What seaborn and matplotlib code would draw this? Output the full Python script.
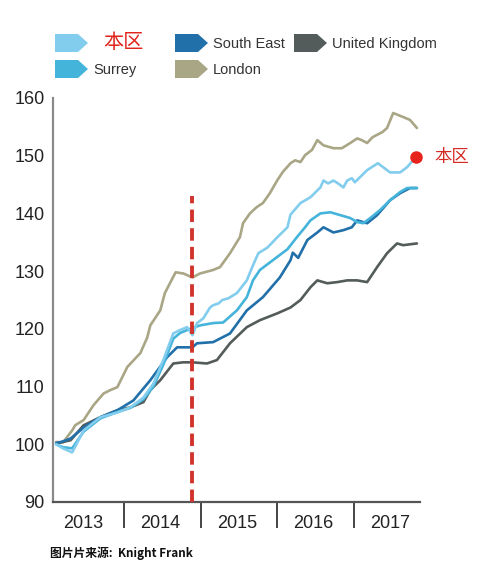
import numpy as np
import pandas as pd
import matplotlib
matplotlib.use("Agg")
import matplotlib.pyplot as plt
from matplotlib.patches import Polygon
import seaborn as sns

# ---------------- data (index) ----------------
local_x = [2013.11, 2013.20, 2013.32, 2013.47, 2013.69, 2013.91, 2014.08, 2014.25, 2014.38, 2014.51,
           2014.64, 2014.73, 2014.82, 2014.89, 2014.95, 2015.03, 2015.12, 2015.16, 2015.23, 2015.28,
           2015.36, 2015.47, 2015.60, 2015.67, 2015.75, 2015.87, 2016.00, 2016.13, 2016.17, 2016.30,
           2016.43, 2016.56, 2016.60, 2016.66, 2016.73, 2016.79, 2016.86, 2016.91, 2016.97, 2017.01,
           2017.17, 2017.31, 2017.40, 2017.47, 2017.60, 2017.69, 2017.77, 2017.81]
local_y = [100.0, 99.3, 98.6, 102.4, 104.7, 105.5, 106.4, 108.1, 110.5, 114.6,
           119.2, 119.8, 120.3, 118.9, 121.0, 121.8, 123.7, 124.1, 124.4, 125.0,
           125.3, 126.2, 128.4, 130.7, 133.1, 134.1, 135.9, 137.6, 139.8, 141.8,
           142.8, 144.5, 145.7, 145.2, 145.7, 145.2, 144.5, 145.7, 146.1, 145.4,
           147.5, 148.7, 147.8, 147.1, 147.1, 148.0, 149.2, 149.7]

surrey_x = [2013.11, 2013.20, 2013.32, 2013.47, 2013.69, 2013.91, 2014.08, 2014.25, 2014.38, 2014.51,
            2014.64, 2014.73, 2014.86, 2014.99, 2015.16, 2015.29, 2015.47, 2015.60, 2015.68, 2015.77,
            2015.94, 2016.13, 2016.26, 2016.36, 2016.43, 2016.56, 2016.69, 2016.82, 2016.95, 2017.04,
            2017.12, 2017.22, 2017.34, 2017.47, 2017.60, 2017.69, 2017.82]
surrey_y = [100.0, 99.5, 99.3, 102.2, 104.5, 105.6, 106.3, 107.8, 110.0, 113.8,
            118.3, 119.3, 120.0, 120.6, 121.0, 121.1, 123.2, 125.5, 128.4, 130.2,
            131.9, 133.8, 136.0, 137.6, 138.8, 140.0, 140.2, 139.7, 139.2, 138.5,
            138.3, 139.3, 140.6, 142.3, 143.7, 144.4, 144.4]

se_x = [2013.11, 2013.20, 2013.30, 2013.47, 2013.69, 2013.91, 2014.12, 2014.34, 2014.56, 2014.69,
        2014.89, 2014.95, 2015.16, 2015.38, 2015.60, 2015.81, 2016.03, 2016.17, 2016.20, 2016.27,
        2016.39, 2016.52, 2016.60, 2016.73, 2016.86, 2016.97, 2017.04, 2017.17, 2017.30, 2017.47,
        2017.60, 2017.73, 2017.82]
se_y = [100.2, 100.5, 101.0, 102.9, 104.7, 105.9, 107.6, 111.1, 115.1, 116.8,
        116.8, 117.5, 117.7, 119.2, 123.2, 125.5, 128.9, 131.9, 133.2, 132.3,
        135.4, 136.7, 137.6, 136.7, 137.1, 137.6, 138.8, 138.3, 139.7, 142.3,
        143.5, 144.4, 144.4]

uk_x = [2013.13, 2013.30, 2013.47, 2013.69, 2013.91, 2014.08, 2014.25, 2014.34, 2014.47, 2014.64,
        2014.77, 2014.89, 2015.08, 2015.21, 2015.38, 2015.60, 2015.77, 2016.00, 2016.17, 2016.30,
        2016.43, 2016.52, 2016.65, 2016.78, 2016.91, 2017.04, 2017.17, 2017.30, 2017.43, 2017.56,
        2017.64, 2017.82]
uk_y = [100.2, 100.7, 103.3, 104.7, 105.9, 106.4, 107.3, 109.4, 111.1, 114.0,
        114.2, 114.2, 114.0, 114.6, 117.5, 120.3, 121.5, 122.7, 123.7, 125.0,
        127.2, 128.4, 127.9, 128.1, 128.4, 128.4, 128.1, 130.7, 133.1, 134.8,
        134.5, 134.8]

london_x = [2013.11, 2013.20, 2013.32, 2013.36, 2013.47, 2013.60, 2013.73, 2013.82, 2013.91, 2014.04,
            2014.21, 2014.30, 2014.34, 2014.47, 2014.53, 2014.67, 2014.77, 2014.89, 2014.99, 2015.16,
            2015.25, 2015.38, 2015.51, 2015.55, 2015.64, 2015.73, 2015.81, 2015.90, 2016.00, 2016.07,
            2016.17, 2016.23, 2016.30, 2016.36, 2016.45, 2016.52, 2016.60, 2016.73, 2016.84, 2016.95,
            2017.04, 2017.10, 2017.17, 2017.24, 2017.37, 2017.43, 2017.51, 2017.64, 2017.73, 2017.82]
london_y = [100.4, 100.3, 102.4, 103.3, 104.2, 106.8, 108.8, 109.4, 109.9, 113.4,
            115.8, 118.5, 120.6, 123.2, 126.2, 129.8, 129.6, 128.9, 129.6, 130.2,
            130.7, 133.1, 135.9, 138.3, 140.0, 141.1, 141.8, 143.5, 145.8, 147.2,
            148.7, 149.2, 148.9, 150.1, 151.0, 152.7, 151.8, 151.3, 151.3, 152.2,
            153.0, 152.7, 152.2, 153.2, 154.1, 154.8, 157.4, 156.7, 156.2, 154.8]

series_names = ["London", "United Kingdom", "South East", "Surrey", "本区"]
series_x = [london_x, uk_x, se_x, surrey_x, local_x]
series_y = [london_y, uk_y, se_y, surrey_y, local_y]
colors = {"本区": "#82cdee", "Surrey": "#45b4da", "South East": "#2170a9",
          "United Kingdom": "#545c5b", "London": "#a9a686"}

years = [2013, 2014, 2015, 2016, 2017]
y_ticks = [90, 100, 110, 120, 130, 140, 150, 160]
event_x = 2014.88
event_top = 143.0
local_label = "本区"
source_text = "图片片来源:  Knight Frank"

# ---------------- figure ----------------
sns.set_theme(style="white")
plt.rcParams["font.family"] = ["Liberation Sans", "Noto Sans CJK SC", "DejaVu Sans"]

W, H = 490, 563
fig = plt.figure(figsize=(W / 100, H / 100), dpi=100)
ax = fig.add_axes([53 / W, 1 - 502 / H, (420 - 53) / W, (502 - 98) / H])

rows = []
for name, xs, ys in zip(series_names, series_x, series_y):
    for xv, yv in zip(xs, ys):
        rows.append({"year": xv, "value": yv, "series": name})
df = pd.DataFrame(rows)

sns.lineplot(data=df, x="year", y="value", hue="series", hue_order=series_names,
             palette=colors, estimator=None, linewidth=1.9, legend=False, ax=ax)

# red dashed event line
ax.plot([event_x, event_x], [90, event_top], color="#d0342c", linewidth=2.8,
        dashes=(3.2, 1.6), solid_capstyle="butt", zorder=5)

# red dot at end of local series + label
ax.plot([local_x[-1]], [local_y[-1]], "o", color="#e8231b", markersize=8, zorder=6,
        clip_on=False)
ax.annotate(local_label, xy=(local_x[-1], local_y[-1]), xytext=(13, 0),
            textcoords="offset points", va="center", ha="left", color="#d42a22",
            fontsize=12.5, family=["Noto Sans CJK SC"], annotation_clip=False)

ax.set_xlim(2013.07, 2017.86)
ax.set_ylim(90, 160)
ax.set_xlabel("")
ax.set_ylabel("")

ax.set_yticks(y_ticks)
ax.set_yticklabels([str(v) for v in y_ticks])
ax.tick_params(axis="y", length=0, pad=6, labelsize=13, labelcolor="#222222")

ax.set_xticks([y + 0.47 for y in years])
ax.set_xticklabels([str(y) for y in years])
ax.set_xticks(years[1:], minor=True)
ax.tick_params(axis="x", which="major", length=0, pad=9, labelsize=13, labelcolor="#222222")
ax.tick_params(axis="x", which="minor", length=19, width=1.4, color="#444444",
               direction="out", bottom=True)

for s in ["top", "right"]:
    ax.spines[s].set_visible(False)
ax.spines["left"].set_color("#8a8a8a")
ax.spines["left"].set_linewidth(1.6)
ax.spines["bottom"].set_color("#555555")
ax.spines["bottom"].set_linewidth(1.6)
ax.grid(False)

# ---------------- legend (drawn manually) ----------------
def px(x, y):
    return (x / W, 1 - y / H)

def arrow_patch(x0, y0, color):
    w, h, tip = 33, 18, 10
    pts = [px(x0, y0), px(x0 + w - tip, y0), px(x0 + w, y0 + h / 2),
           px(x0 + w - tip, y0 + h), px(x0, y0 + h)]
    fig.patches.append(Polygon(pts, closed=True, facecolor=color, edgecolor="none",
                               transform=fig.transFigure))

legend_items = [("本区", 55, 34), ("South East", 175, 34), ("United Kingdom", 294, 34),
                ("Surrey", 55, 60), ("London", 175, 60)]
for name, lx, ly in legend_items:
    arrow_patch(lx, ly, colors[name])
    if name == "本区":
        fig.text(*px(lx + 48, ly + 9), name, color="#e0251c", fontsize=14.5,
                 va="center", ha="left", family=["Noto Sans CJK SC"])
    else:
        fig.text(*px(lx + 38, ly + 10), name, color="#333333", fontsize=10.5,
                 va="center", ha="left")

fig.text(*px(50, 553), source_text, fontsize=8.5, fontweight="bold", color="#111111",
         va="center", ha="left", family=["Noto Sans CJK SC", "DejaVu Sans"])

fig.savefig("out.png", dpi=100)
